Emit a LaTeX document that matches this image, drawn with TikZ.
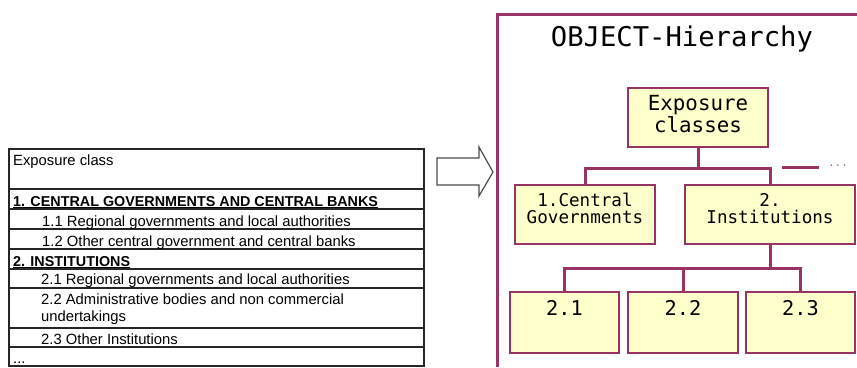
\documentclass[tikz,border=0pt]{standalone}
\usepackage{fontspec}
\setmainfont{Liberation Sans}
\setmonofont{DejaVu Sans Mono}
\definecolor{plum}{RGB}{153,51,102}
\definecolor{paleyellow}{RGB}{255,255,204}
\tikzset{
  cell/.style={anchor=base west, inner sep=0pt, align=left, font=\fontsize{14.8}{17.5}\selectfont},
  headcell/.style={cell, font=\bfseries\fontsize{14.35}{17.5}\selectfont},
  classbox/.style={draw=plum, fill=paleyellow, line width=1.8pt, inner sep=0pt, align=center},
  link/.style={plum, line width=3pt},
}
\begin{document}
\begin{tikzpicture}[x=1pt,y=-1pt]
        \useasboundingbox (0,0) rectangle (857,367);
        % table on the left
        \draw[line width=1.2pt, black!85] (9,149) rectangle (424,366);
        \foreach \y in {189,209,229,249,269,288,328,347}
            \draw[line width=1.2pt, black!85] (9,\y) -- (424,\y);
        \node[cell] (hdr) at (13,165) {Exposure class};
        \node[headcell] (cgov) at (13,206) {\underline{1. CENTRAL GOVERNMENTS AND CENTRAL BANKS}};
        \node[cell] (row11) at (42,226.5) {1.1 Regional governments and local authorities};
        \node[cell] (row12) at (42,246.5) {1.2 Other central government and central banks};
        \node[headcell] (inst0) at (13,266) {\underline{2. INSTITUTIONS}};
        \node[cell] (row21) at (41,284.5) {2.1 Regional governments and local authorities};
        \node[cell] (row22) at (41,321.5) {2.2 Administrative bodies and non commercial\\undertakings};
        \node[cell] (row23) at (41,344) {2.3 Other Institutions};
        \node[cell] (rowdots) at (13,363) {...};
        % block arrow
        \draw[gray!60!black, line width=1.2pt, fill=white] (437,158) -- (479,158) -- (479,147) -- (493,172) -- (479,196) -- (479,185) -- (437,185) -- cycle;
        % hierarchy frame
        \draw[plum, line width=3pt] (857,14) -- (497,14) -- (497,367);
        \node[font=\ttfamily\fontsize{27.2}{30}\selectfont] (title) at (682,39) {OBJECT-Hierarchy};
        \node[classbox, minimum width=140pt, minimum height=59pt, text height=44pt, text depth=15pt, font=\ttfamily\fontsize{20.8}{22}\selectfont] (root) at (698,117.5) {Exposure\\classes};
        \node[classbox, minimum width=140pt, minimum height=59pt, text height=38pt, text depth=21pt, font=\ttfamily\fontsize{17.6}{16.5}\selectfont] (cg) at (585,214.5) {1.Central\\Governments};
        \node[classbox, minimum width=170pt, minimum height=59pt, text height=38pt, text depth=21pt, font=\ttfamily\fontsize{17.6}{16.5}\selectfont] (inst) at (770,214.5) {2.\\Institutions};
        \node[classbox, minimum width=109pt, minimum height=61pt, text height=23pt, text depth=38pt, font=\ttfamily\fontsize{20.3}{22}\selectfont] (s21) at (564.5,322.5) {2.1};
        \node[classbox, minimum width=110pt, minimum height=61pt, text height=23pt, text depth=38pt, font=\ttfamily\fontsize{20.3}{22}\selectfont] (s22) at (683,322.5) {2.2};
        \node[classbox, minimum width=109pt, minimum height=61pt, text height=23pt, text depth=38pt, font=\ttfamily\fontsize{20.3}{22}\selectfont] (s23) at (800.5,322.5) {2.3};
        \node[gray, inner sep=0pt, font=\ttfamily\fontsize{11}{12}\selectfont] (dots) at (838,166) {...};
        \coordinate (fork1) at (698,168);
        \coordinate (fork2) at (770,268);
        \coordinate (more) at (782,167);
        \draw[link] (root) -- (fork1);
        \draw[link] (cg) |- (fork1) -| (inst);
        \draw[link, shorten >=9pt] (more) -- (dots.west |- more);
        \draw[link] (inst) -- (fork2);
        \draw[link] (s21) |- (fork2) -| (s23);
        \draw[link] (s22) -- (s22 |- fork2);
    \end{tikzpicture}
\end{document}
